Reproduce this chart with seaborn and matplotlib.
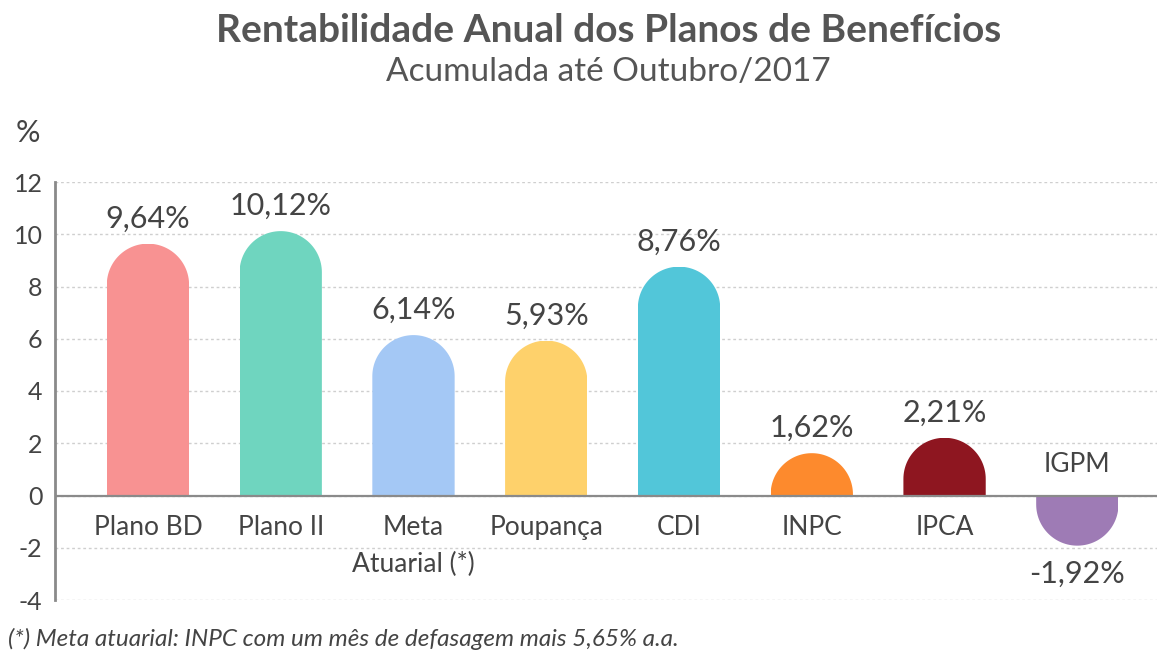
import numpy as np
import pandas as pd
import matplotlib
matplotlib.use("Agg")
import matplotlib.pyplot as plt
from matplotlib.path import Path
from matplotlib.patches import PathPatch
import seaborn as sns

# --- Data ---
categories = ["Plano BD", "Plano II", "Meta\nAtuarial (*)", "Poupança", "CDI", "INPC", "IPCA", "IGPM"]
values = [9.64, 10.12, 6.14, 5.93, 8.76, 1.62, 2.21, -1.92]
value_labels = ["9,64%", "10,12%", "6,14%", "5,93%", "8,76%", "1,62%", "2,21%", "-1,92%"]
colors = ["#F89292", "#6FD5BF", "#A4C8F5", "#FED16B", "#52C6D9", "#FD8A2D", "#8E1620", "#9E7BB5"]
yticks = [-4, -2, 0, 2, 4, 6, 8, 10, 12]

TEXT = "#444444"

sns.set_style("white")
plt.rcParams["font.family"] = ["Lato", "DejaVu Sans"]
plt.rcParams["axes.unicode_minus"] = False

W, H = 1157, 653
fig = plt.figure(figsize=(W / 100, H / 100), dpi=100)
ax_left, ax_right, ax_top, ax_bottom = 55, 1157, 182, 600
ax = fig.add_axes([ax_left / W, 1 - ax_bottom / H, (ax_right - ax_left) / W, (ax_bottom - ax_top) / H])

df = pd.DataFrame({"categoria": categories, "valor": values})
bar_width = 0.62
sns.barplot(data=df, x="categoria", y="valor", hue="categoria", palette=colors,
            saturation=1, width=bar_width, errorbar=None, legend=False,
            linewidth=0, ax=ax)

xlim = (-0.70, 7.60)
ylim = (-4, 12)
ax.set_xlim(*xlim)
ax.set_ylim(*ylim)

# --- Rounded ends: clip each bar with a half-circle cap ---
px_x = (ax_right - ax_left) / (xlim[1] - xlim[0])
px_y = (ax_bottom - ax_top) / (ylim[1] - ylim[0])
for bar in ax.patches:
    x0, w, h = bar.get_x(), bar.get_width(), bar.get_height()
    cx = x0 + w / 2
    ry = (w / 2) * px_x / px_y
    theta = np.linspace(np.pi, 0, 60)
    if h >= 0:
        yc = h - ry
        arc = np.column_stack([cx + (w / 2) * np.cos(theta), yc + ry * np.sin(theta)])
    else:
        yc = h + ry
        arc = np.column_stack([cx + (w / 2) * np.cos(theta), yc - ry * np.sin(theta)])
    verts = np.vstack([[x0, 0], arc, [x0 + w, 0], [x0, 0]])
    clip = PathPatch(Path(verts), transform=ax.transData)
    bar.set_clip_path(clip)

# --- Axes styling ---
ax.set_axisbelow(True)
ax.set_yticks(yticks)
ax.yaxis.grid(True, linestyle=(0, (2, 2)), color="#cfcfcf", linewidth=1)
ax.xaxis.grid(False)
ax.axhline(0, color="#8a8a8a", linewidth=1.6, zorder=3)
for side in ["top", "right", "bottom"]:
    ax.spines[side].set_visible(False)
ax.spines["left"].set_color("#8a8a8a")
ax.spines["left"].set_linewidth(2)
ax.tick_params(axis="y", length=0, pad=9, labelsize=18, labelcolor=TEXT)
ax.set_xticks([])
ax.set_xlabel("")
ax.set_ylabel("")

# --- Labels ---
for i, (cat, val, lab) in enumerate(zip(categories, values, value_labels)):
    if val >= 0:
        ax.annotate(lab, (i, val), xytext=(0, 18), textcoords="offset points",
                    ha="center", va="center", fontsize=22, color=TEXT)
        ax.annotate(cat, (i, 0), xytext=(0, -14), textcoords="offset points",
                    ha="center", va="top", fontsize=19, color=TEXT, linespacing=1.6)
    else:
        ax.annotate(lab, (i, val), xytext=(0, -20), textcoords="offset points",
                    ha="center", va="center", fontsize=22, color=TEXT)
        ax.annotate(cat, (i, 0), xytext=(0, 22), textcoords="offset points",
                    ha="center", va="center", fontsize=19, color=TEXT)

fig.text(28 / W, 1 - 133 / H, "%", ha="center", va="center", fontsize=22, color=TEXT)
fig.text(609 / W, 1 - 30 / H, "Rentabilidade Anual dos Planos de Benefícios",
         ha="center", va="center", fontsize=28, fontweight="bold", color="#555555")
fig.text(608 / W, 1 - 72 / H, "Acumulada até Outubro/2017",
         ha="center", va="center", fontsize=24, color="#555555")
fig.text(8 / W, 1 - 639 / H, "(*) Meta atuarial: INPC com um mês de defasagem mais 5,65% a.a.",
         ha="left", va="center", fontsize=17.5, style="italic", color=TEXT)

fig.savefig("out.png", dpi=100)
